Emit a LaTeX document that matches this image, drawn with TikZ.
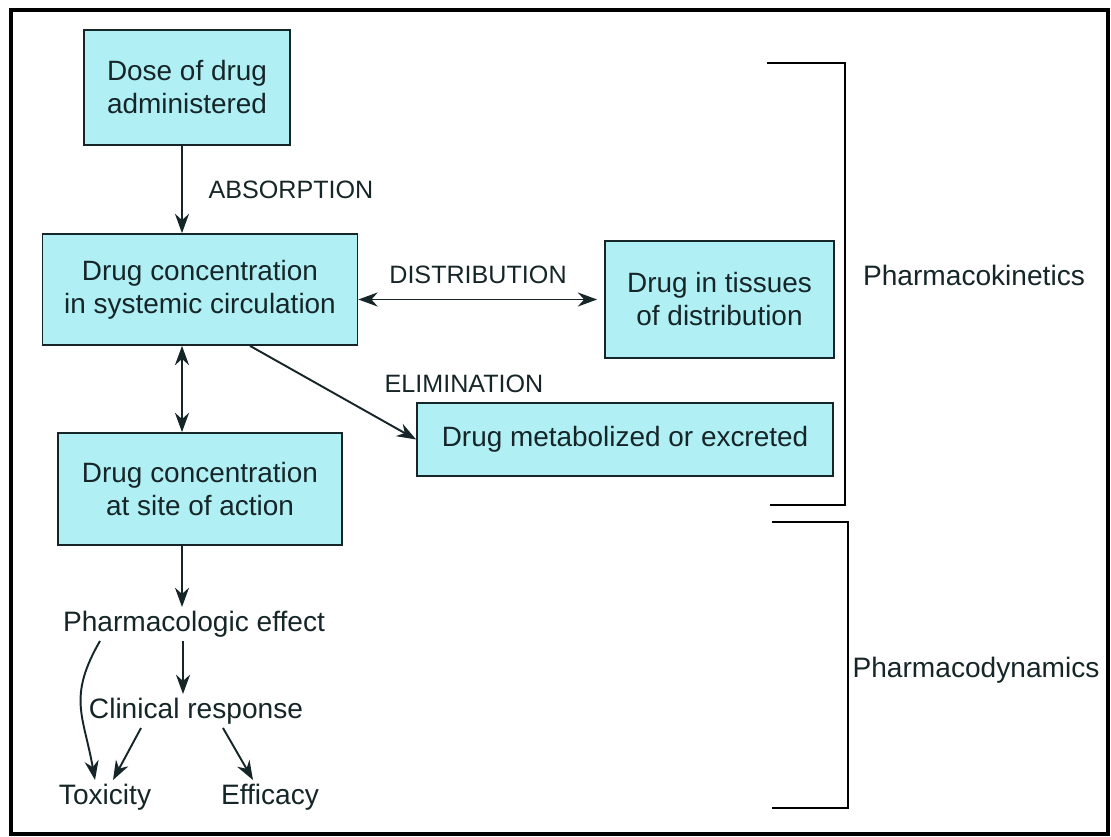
\documentclass[tikz,border=0pt]{standalone}
\usepackage{fontspec}
\setmainfont{Liberation Sans}
\usetikzlibrary{arrows.meta,calc,positioning}
\definecolor{pkcyan}{RGB}{176,240,245}
\definecolor{pkink}{RGB}{22,38,40}
\tikzset{
  drugbox/.style={draw=pkink,line width=1pt,fill=pkcyan,align=center,
    inner sep=0pt,text=pkink,font=\fontsize{15.9}{18.8}\selectfont},
  steplabel/.style={inner sep=1pt,text=pkink,font=\fontsize{14.3}{17}\selectfont},
  effectlabel/.style={inner sep=2pt,text=pkink,font=\fontsize{16}{19}\selectfont},
  arr/.style={-{Stealth[length=11pt,width=8pt]},line width=1.1pt,draw=pkink},
  dbl/.style={{Stealth[length=11pt,width=8pt]}-{Stealth[length=11pt,width=8pt]},line width=1.1pt,draw=pkink},
}

\begin{document}
\begin{tikzpicture}[x=.02cm,y=-.02cm]
    \useasboundingbox (0,0) rectangle (1111,837);
    \draw[line width=2pt] (11,10) rectangle (1108,834);
    % boxes
    \node[drugbox,minimum width=4.12cm,minimum height=2.3cm] (dose) at (187,87.5) {Dose of drug\\administered};
    \node[drugbox,minimum width=6.3cm,minimum height=2.22cm] (circ) at (200,289.5) {Drug concentration\\in systemic circulation};
    \node[drugbox,minimum width=4.58cm,minimum height=2.34cm] (tissue) at (719.5,299.5) {Drug in tissues\\of distribution};
    \node[drugbox,minimum width=8.32cm,minimum height=1.46cm] (metab) at (625,439.5) {Drug metabolized or excreted};
    \node[drugbox,minimum width=5.68cm,minimum height=2.24cm] (site) at (200,489) {Drug concentration\\at site of action};
    % process labels
    \node[steplabel] (absorp) at (291,190) {ABSORPTION};
    \node[steplabel] (distrib) at (478,275) {DISTRIBUTION};
    \node[steplabel] (elim) at (464,384) {ELIMINATION};
    % effects
    \node[effectlabel] (pharm) at (194,624) {Pharmacologic effect};
    \node[effectlabel] (clin) at (196,711) {Clinical response};
    \node[effectlabel] (tox) at (105,797) {Toxicity};
    \node[effectlabel] (eff) at (270,797) {Efficacy};
    % arrows
    \draw[arr] ([xshift=-.1cm]dose.south) -- ([xshift=-.1cm]dose.south |- circ.north);
    \draw[dbl] ([xshift=-.36cm]circ.south) -- ([xshift=-.36cm]circ.south |- site.north);
    \draw[dbl,shorten >=.14cm] (circ.east |- tissue.west) -- (tissue.west);
    \draw[arr] ([xshift=1cm]circ.south) -- (metab.west);
    \draw[arr] ([xshift=-.36cm]site.south) -- ([xshift=-.36cm]site.south |- pharm.north);
    \draw[arr] ([xshift=-.22cm]pharm.south) -- ([xshift=-.22cm]pharm.south |- clin.north);
    \draw[arr] ($(pharm.south)+(-94,0)$) to[out=240,in=100,looseness=1.2] ($(tox.north)+(-10,0)$);
    \draw[arr] ($(clin.south)+(-55,0)$) -- ($(tox.north)+(8,0)$);
    \draw[arr] ($(clin.south)+(27,0)$) -- ($(eff.north)+(-17,0)$);
    % brackets
    \draw[line width=1.2pt] (767,63) -| (845,505) -- (770,505);
    \draw[line width=1.2pt] (772,522) -| (848,808) -- (772,808);
    \node[effectlabel] (pk) at (974,275) {Pharmacokinetics};
    \node[effectlabel] (pd) at (976,670) {Pharmacodynamics};
\end{tikzpicture}
\end{document}
